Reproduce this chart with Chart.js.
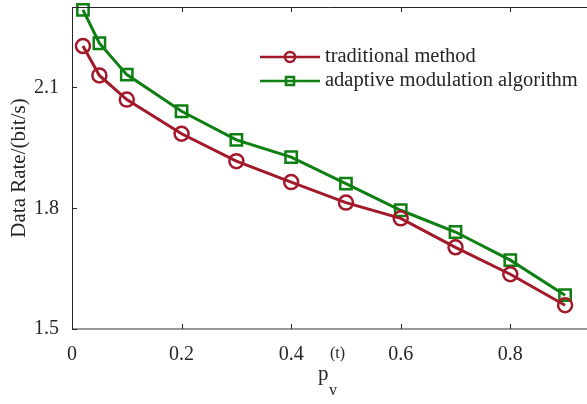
<!DOCTYPE html>
<html>
<head>
<meta charset="utf-8">
<script src="https://cdn.jsdelivr.net/npm/chart.js@4.4.0/dist/chart.umd.min.js"></script>
<style>
html, body { margin: 0; padding: 0; background: #fff; }
</style>
</head>
<body>
<canvas id="rate_plot" width="587" height="404"></canvas>
<script>
// values
const pv = [0.02, 0.05, 0.1, 0.2, 0.3, 0.4, 0.5, 0.6, 0.7, 0.8, 0.9];
const traditional = [2.203, 2.130, 2.070, 1.985, 1.917, 1.865, 1.814, 1.775, 1.703, 1.636, 1.559];
const adaptive = [2.293, 2.210, 2.132, 2.041, 1.970, 1.927, 1.861, 1.795, 1.741, 1.671, 1.584];
const seriesNames = ['traditional method', 'adaptive modulation algorithm'];
const yTitle = 'Data Rate/(bit/s)';

const RED = '#A2192A';
const GREEN = '#0E7F12';
const AXIS = '#262626';
const SERIF = '"Liberation Serif", "DejaVu Serif", serif';

// box, inward ticks, x title with sub/superscript, legend
const decorations = {
    id: 'decorations',
    afterDraw(chart) {
        const ctx = chart.ctx;
        const a = chart.chartArea;
        const xs = chart.scales.x, ys = chart.scales.y;
        ctx.save();
        ctx.strokeStyle = AXIS;
        ctx.lineWidth = 1;
        ctx.beginPath();
        ctx.moveTo(a.left + 0.5, a.top + 0.5);
        ctx.lineTo(a.right, a.top + 0.5);
        ctx.moveTo(a.left + 0.5, a.top);
        ctx.lineTo(a.left + 0.5, a.bottom);
        ctx.stroke();
        ctx.strokeStyle = '#777';
        ctx.lineWidth = 1.5;
        ctx.beginPath();
        ctx.moveTo(a.left, a.bottom);
        ctx.lineTo(a.right, a.bottom);
        ctx.stroke();

        // inward ticks
        ctx.strokeStyle = AXIS;
        ctx.lineWidth = 1;
        ctx.beginPath();
        xs.ticks.forEach(t => {
            const px = Math.round(xs.getPixelForValue(t.value)) + 0.5;
            ctx.moveTo(px, a.bottom);
            ctx.lineTo(px, a.bottom - 5);
            ctx.moveTo(px, a.top);
            ctx.lineTo(px, a.top + 5);
        });
        ys.ticks.forEach(t => {
            const py = Math.round(ys.getPixelForValue(t.value)) + 0.5;
            ctx.moveTo(a.left, py);
            ctx.lineTo(a.left + 5, py);
        });
        ctx.stroke();

        // x title p_v^(t)
        ctx.fillStyle = AXIS;
        ctx.textBaseline = 'alphabetic';
        ctx.textAlign = 'left';
        ctx.font = '21px ' + SERIF;
        ctx.fillText('p', 318, 380);
        ctx.font = '16px ' + SERIF;
        ctx.fillText('(t)', 330, 358);
        ctx.fillText('v', 329, 395);

        // legend
        const rows = [
            { name: seriesNames[0], color: RED, y: 57, shape: 'circle' },
            { name: seriesNames[1], color: GREEN, y: 81, shape: 'rect' }
        ];
        rows.forEach(r => {
            ctx.strokeStyle = r.color;
            ctx.lineWidth = 2.5;
            ctx.beginPath();
            ctx.moveTo(260, r.y);
            ctx.lineTo(320, r.y);
            ctx.stroke();
            ctx.beginPath();
            if (r.shape === 'circle') {
                ctx.arc(290, r.y, 5, 0, Math.PI * 2);
            } else {
                ctx.rect(286, r.y - 4, 8, 8);
            }
            ctx.stroke();
            ctx.fillStyle = AXIS;
            ctx.font = '20.5px ' + SERIF;
            ctx.textBaseline = 'middle';
            ctx.fillText(r.name, 325, r.y);
        });
        ctx.restore();
    }
};

new Chart(document.getElementById('rate_plot').getContext('2d'), {
    type: 'line',
    data: {
        datasets: [{
            label: seriesNames[0],
            data: pv.map((x, i) => ({ x: x, y: traditional[i] })),
            borderColor: RED,
            borderWidth: 3,
            pointStyle: 'circle',
            pointRadius: 7,
            pointBorderWidth: 2.5,
            pointBackgroundColor: 'rgba(0,0,0,0)',
            pointBorderColor: RED,
            fill: false,
            tension: 0
        }, {
            label: seriesNames[1],
            data: pv.map((x, i) => ({ x: x, y: adaptive[i] })),
            borderColor: GREEN,
            borderWidth: 3,
            pointStyle: 'rect',
            pointRadius: 8,
            pointBorderWidth: 2.5,
            pointBackgroundColor: 'rgba(0,0,0,0)',
            pointBorderColor: GREEN,
            fill: false,
            tension: 0
        }]
    },
    plugins: [decorations],
    options: {
        responsive: false,
        devicePixelRatio: 1,
        animation: false,
        clip: false,
        layout: {
            autoPadding: false,
            padding: { top: 7, right: 0, left: 0, bottom: 0 }
        },
        plugins: {
            legend: { display: false },
            tooltip: { enabled: false }
        },
        scales: {
            x: {
                type: 'linear',
                min: 0,
                max: 0.94,
                afterFit: s => {
                    s.height = 75;
                    s.paddingLeft = 0;
                    s.paddingRight = 0;
                },
                grid: { display: false, drawTicks: false },
                border: { display: false },
                ticks: {
                    stepSize: 0.2,
                    includeBounds: false,
                    padding: 14,
                    color: AXIS,
                    font: { family: SERIF, size: 20 },
                    maxRotation: 0
                }
            },
            y: {
                type: 'linear',
                min: 1.5,
                max: 2.3,
                afterFit: s => {
                    s.width = 72;
                    s.paddingTop = 0;
                    s.paddingBottom = 0;
                },
                grid: { display: false, drawTicks: false },
                border: { display: false },
                title: {
                    display: true,
                    text: yTitle,
                    color: AXIS,
                    font: { family: SERIF, size: 21 },
                    padding: { top: 7, bottom: 2 }
                },
                ticks: {
                    stepSize: 0.3,
                    includeBounds: false,
                    padding: 13,
                    color: AXIS,
                    font: { family: SERIF, size: 20 },
                    callback: v => v.toFixed(1)
                }
            }
        }
    }
});
</script>
</body>
</html>
